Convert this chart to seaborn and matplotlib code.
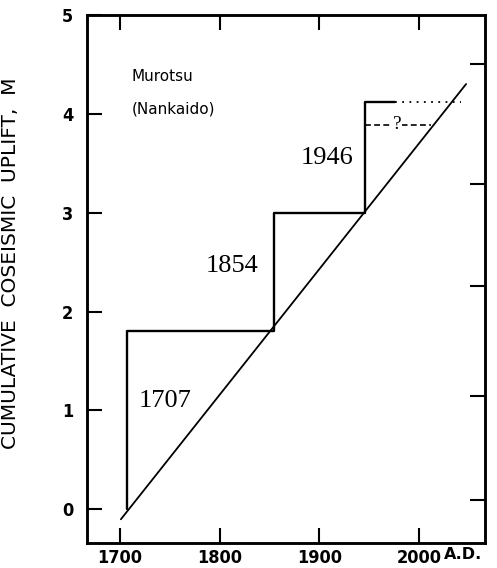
import numpy as np
import pandas as pd
import matplotlib.pyplot as plt
import seaborn as sns

# coseismic uplift at Murotsu (Nankaido)
quake_years = [1707, 1854, 1946]
uplift_after = [1.8, 3.0, 4.12]
start_uplift = 0.0
solid_end_year = 1976
dotted_end_year = 2042
dashed_start_year = 1946
dashed_end_year = 2012
dashed_uplift = 3.89
trend_years = [1701, 2047]
trend_uplift = [-0.1, 4.3]

x_ticks = [1700, 1800, 1900, 2000]
y_ticks = [0, 1, 2, 3, 4, 5]
right_ticks = [0.09, 1.15, 2.26, 3.29, 4.5]

step_x = [quake_years[0]] + quake_years + [solid_end_year]
step_y = [start_uplift] + uplift_after + [uplift_after[-1]]

sns.set_style("ticks")
plt.rcParams['font.family'] = ['DejaVu Sans']
plt.rcParams['text.color'] = 'black'
plt.rcParams['axes.labelcolor'] = 'black'
plt.rcParams['xtick.color'] = 'black'
plt.rcParams['ytick.color'] = 'black'

fig = plt.figure(figsize=(4.97, 5.68), dpi=100)
ax = fig.add_axes([0.175, 0.044, 0.801, 0.930])

sns.lineplot(x=step_x, y=step_y, estimator=None, sort=False, drawstyle='steps-post',
             color='black', lw=1.7, ax=ax)
sns.lineplot(x=[solid_end_year, dotted_end_year], y=[uplift_after[-1]] * 2, estimator=None,
             color='black', lw=1.3, ls=(0, (1, 3)), ax=ax)
sns.lineplot(x=[dashed_start_year, dashed_end_year], y=[dashed_uplift] * 2, estimator=None,
             color='black', lw=1.2, ls=(0, (3.5, 2)), ax=ax)
sns.lineplot(x=trend_years, y=trend_uplift, estimator=None, color='black', lw=1.3, ax=ax)

serif = ['Liberation Serif', 'DejaVu Serif']
ax.text(1978, dashed_uplift, "?", family=serif, fontsize=14, ha='center', va='center',
        bbox=dict(facecolor='white', edgecolor='none', pad=0.5))
ax.text(1745, 1.10, "1707", family=serif, fontsize=19, ha='center', va='center')
ax.text(1812, 2.46, "1854", family=serif, fontsize=19, ha='center', va='center')
ax.text(1908, 3.55, "1946", family=serif, fontsize=19, ha='center', va='center')

ax.text(1712, 4.38, "Murotsu", fontsize=11, ha='left', va='center')
ax.text(1712, 4.05, "(Nankaido)", fontsize=11, ha='left', va='center')

ax.set_xlim(1667, 2066)
ax.set_ylim(-0.34, 5.0)

ax.set_xticks(x_ticks)
ax.set_xticklabels([str(t) for t in x_ticks], fontweight='bold', fontstretch='condensed', fontsize=13)
ax.set_yticks(y_ticks)
ax.set_yticklabels([str(t) for t in y_ticks], fontweight='bold', fontstretch='condensed', fontsize=13)
ax.tick_params(axis='x', direction='in', top=True, length=11, width=1.5, pad=4)
ax.tick_params(axis='y', direction='in', length=11, width=1.5, pad=10)
ax.text(2025, -0.008, "A.D.", fontsize=11.5, ha='left', va='top', fontweight='bold',
        transform=ax.get_xaxis_transform())

twin = ax.twinx()
twin.set_ylim(ax.get_ylim())
twin.set_yticks(right_ticks)
twin.set_yticklabels([])
twin.tick_params(axis='y', direction='in', length=11, width=1.5)

for a in (ax, twin):
    for s in a.spines.values():
        s.set_linewidth(1.8)
        s.set_color('black')

ax.set_ylabel("CUMULATIVE  COSEISMIC  UPLIFT,  M", fontsize=14.5)
ax.yaxis.set_label_coords(-0.168, 0.53)
ax.set_xlabel("")

fig.savefig("out.png", dpi=100)
